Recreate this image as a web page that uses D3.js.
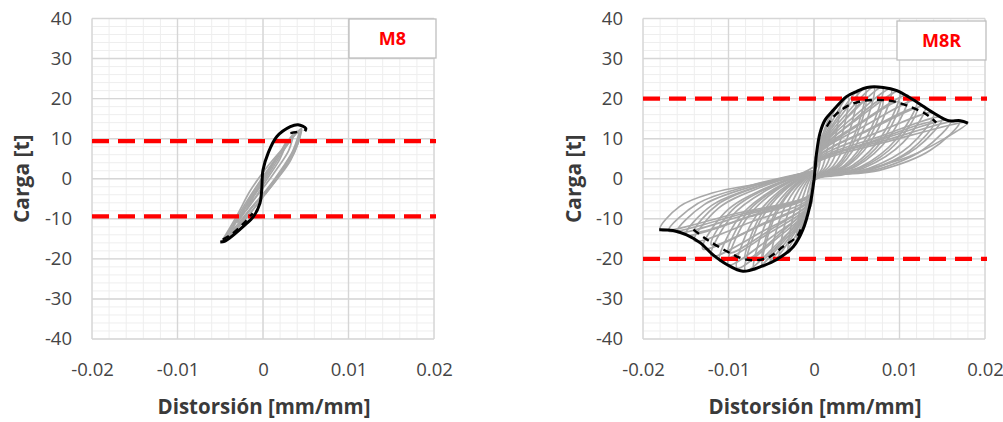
<!DOCTYPE html>
<html><head><meta charset="utf-8">
<script src="https://cdn.jsdelivr.net/npm/d3@7"></script>
<style>body{margin:0;background:#fff;overflow:hidden}</style>
</head><body>
<svg id="c" width="1003" height="422"></svg>
<script>
// ---------- data ----------
const xTicks = [-0.02, -0.01, 0, 0.01, 0.02];
const xTickLabels = ["-0.02", "-0.01", "0", "0.01", "0.02"];
const yTicks = [-40, -30, -20, -10, 0, 10, 20, 30, 40];
const yTickLabels = ["-40", "-30", "-20", "-10", "0", "10", "20", "30", "40"];
const xTitle = "Distorsión [mm/mm]";
const yTitle = "Carga [t]";
const panelNames = ["M8", "M8R"];

// M8 (left)
const m8Limits = [9.4, -9.4];
const m8Envelope = [[-0.0050,-15.8],[-0.0045,-15.6],[-0.0039,-14.8],[-0.0023,-11.9],[-0.0011,-9.4],[-0.00035,-6.1],[-0.00015,-2.7],[0,2.2],[0.0006,6.4],[0.0016,10.5],[0.0032,13.0],[0.0041,13.5],[0.0050,12.6],[0.0049,11.9]];
const m8Dashed = [[-0.0047,-15.2],[-0.0035,-13.6],[-0.0022,-11.0],[-0.0012,-8.6]];
const m8DashedTop = [[0.0032,11.4],[0.0038,11.6],[0.0044,11.9]];
const m8Cycles = [
  [[-0.0048,-15.5],[-0.0030,-9.0],[-0.0015,-3.0],[0.0005,3.0],[0.0025,8.0],[0.0045,12.5],[0.0042,9.5],[0.0032,4.5],[0.0015,-0.5],[0,-4.5],[-0.0020,-10.0],[-0.0035,-13.5],[-0.0048,-15.5]],
  [[-0.0040,-14.0],[-0.0025,-8.5],[-0.0010,-3.0],[0.0010,3.5],[0.0030,9.0],[0.0042,12.0],[0.0035,7.0],[0.0022,2.5],[0.0005,-2.5],[-0.0015,-7.5],[-0.0030,-11.5],[-0.0040,-14.0]],
  [[-0.0030,-11.0],[-0.0020,-7.0],[-0.0005,-2.0],[0.0010,3.0],[0.0025,8.0],[0.0035,11.0],[0.0030,7.0],[0.0018,3.0],[0.0003,-1.5],[-0.0015,-6.5],[-0.0030,-11.0]],
  [[-0.0020,-8.0],[-0.0010,-4.0],[0.0005,1.5],[0.0020,6.5],[0.0028,9.5],[0.0020,5.0],[0.0005,0],[-0.0010,-5.0],[-0.0020,-8.0]],
  [[-0.0045,-15.0],[-0.0028,-9.5],[-0.0008,-3.5],[0.0012,3.0],[0.0032,9.5],[0.0044,12.2],[0.0038,8.0],[0.0025,3.0],[0.0008,-2.0],[-0.0012,-7.0],[-0.0032,-12.5],[-0.0045,-15.0]],
  [[-0.0046,-15.2],[-0.0035,-11.5],[-0.0020,-6.0],[0,0.5],[0.0020,6.5],[0.0040,11.5],[0.0043,10.5],[0.0035,6.0],[0.0020,1.0],[0.0002,-4.0],[-0.0025,-11.0],[-0.0046,-15.2]]
];

// M8R (right)
const m8rLimits = [20, -20];
const m8rEnvelope = [[-0.0181,-12.7],[-0.0165,-12.9],[-0.0149,-14.0],[-0.0133,-16.0],[-0.0118,-19.0],[-0.0102,-21.4],[-0.0083,-23.1],[-0.0063,-22.0],[-0.0044,-20.2],[-0.0024,-16.9],[-0.0013,-12.7],[-0.0005,-6.9],[0,-0.3],[0.0003,6.4],[0.0007,11.4],[0.0013,14.7],[0.0023,17.2],[0.0038,20.5],[0.0050,21.8],[0.0062,22.8],[0.0081,22.8],[0.0097,22.0],[0.0116,19.7],[0.0140,16.4],[0.0157,14.5],[0.0171,14.5],[0.0180,13.9]];
const m8rDashedNeg = [[-0.0141,-12.7],[-0.0125,-15.2],[-0.0102,-18.1],[-0.0079,-20.2],[-0.0055,-19.8],[-0.0036,-16.9],[-0.0020,-14.4],[-0.0014,-11.9]];
const m8rDashedPos = [[0.0015,13.0],[0.0023,15.5],[0.0038,18.0],[0.0054,19.3],[0.0073,19.7],[0.0093,19.3],[0.0112,18.0],[0.0132,16.0],[0.0143,14.0]];
const m8rCycles = [
  [[0,2],[0.0004,3.3],[0.0005,7.5],[0.001,11],[0.0008,5.5],[0.00045,1.7],[0,-0.3],[-0.0004,-2.7],[-0.0005,-6.1],[-0.001,-9],[-0.0008,-4.3],[-0.00045,-1.3],[0,2]],
  [[0,2],[0.0004,4.8],[0.001,10.9],[0.002,16],[0.0016,8],[0.0009,2.4],[0,-0.3],[-0.0004,-4.5],[-0.001,-10.2],[-0.002,-15],[-0.0016,-7.2],[-0.0009,-2.1],[0,2]],
  [[0,2],[0.0004,5.7],[0.0015,12.9],[0.003,19],[0.0024,9.5],[0.00135,2.9],[0,-0.3],[-0.0004,-5.6],[-0.0015,-12.6],[-0.003,-18.5],[-0.0024,-8.9],[-0.00135,-2.6],[0,2]],
  [[0,2],[0.0004,6.2],[0.002,13.9],[0.004,20.5],[0.0032,10.3],[0.0018,3.1],[0,-0.3],[-0.0004,-6.1],[-0.002,-13.7],[-0.004,-20.2],[-0.0032,-9.7],[-0.0018,-2.8],[0,2]],
  [[0,2],[0.0004,6.5],[0.0025,14.6],[0.005,21.5],[0.004,10.8],[0.00225,3.2],[0,-0.3],[-0.0004,-6.3],[-0.0025,-14.3],[-0.005,-21],[-0.004,-10.1],[-0.00225,-2.9],[0,2]],
  [[0,2],[0.0004,6.8],[0.003,15.3],[0.006,22.5],[0.0048,11.3],[0.0027,3.4],[0,-0.3],[-0.0004,-6.6],[-0.003,-15],[-0.006,-22],[-0.0048,-10.6],[-0.0027,-3.1],[0,2]],
  [[0,2],[0.0004,6.8],[0.0035,15.5],[0.007,22.8],[0.0056,11.4],[0.00315,3.4],[0,-0.3],[-0.0004,-6.8],[-0.0035,-15.5],[-0.007,-22.8],[-0.0056,-10.9],[-0.00315,-3.2],[0,2]],
  [[0,2],[0.0004,6.8],[0.004,15.5],[0.008,22.8],[0.0064,11.4],[0.0036,3.4],[0,-0.3],[-0.0004,-6.9],[-0.004,-15.6],[-0.008,-23],[-0.0064,-11],[-0.0036,-3.2],[0,2]],
  [[0,2],[0.0004,6.7],[0.0045,15.2],[0.009,22.4],[0.0072,11.2],[0.00405,3.4],[0,-0.3],[-0.0004,-6.7],[-0.0045,-15.2],[-0.009,-22.3],[-0.0072,-10.7],[-0.00405,-3.1],[0,2]],
  [[0,2],[0.0004,6.5],[0.005,14.8],[0.010,21.8],[0.008,10.9],[0.0045,3.3],[0,-0.3],[-0.0004,-6.5],[-0.005,-14.6],[-0.010,-21.5],[-0.008,-10.3],[-0.0045,-3],[0,2]],
  [[0,2],[0.0004,6.2],[0.0055,14.1],[0.011,20.8],[0.0088,10.4],[0.00495,3.1],[0,-0.3],[-0.0004,-6.2],[-0.0055,-13.9],[-0.011,-20.5],[-0.0088,-9.8],[-0.00495,-2.9],[0,2]],
  [[0,2],[0.0004,5.9],[0.006,13.3],[0.012,19.5],[0.0096,9.8],[0.0054,2.9],[0,-0.3],[-0.0004,-5.8],[-0.006,-13.1],[-0.012,-19.3],[-0.0096,-9.3],[-0.0054,-2.7],[0,2]],
  [[0,2],[0.0004,5.4],[0.0065,12.2],[0.013,18],[0.0104,9],[0.00585,2.7],[0,-0.3],[-0.0004,-5.3],[-0.0065,-11.9],[-0.013,-17.5],[-0.0104,-8.4],[-0.00585,-2.5],[0,2]],
  [[0,2],[0.0004,4.9],[0.007,11.2],[0.014,16.4],[0.0112,8.2],[0.0063,2.5],[0,-0.3],[-0.0004,-4.7],[-0.007,-10.5],[-0.014,-15.5],[-0.0112,-7.4],[-0.0063,-2.2],[0,2]],
  [[0,2],[0.0004,4.6],[0.0075,10.4],[0.015,15.3],[0.012,7.7],[0.00675,2.3],[0,-0.3],[-0.0004,-4.2],[-0.0075,-9.5],[-0.015,-14],[-0.012,-6.7],[-0.00675,-2],[0,2]],
  [[0,2],[0.0004,4.4],[0.008,9.9],[0.016,14.5],[0.0128,7.3],[0.0072,2.2],[0,-0.3],[-0.0004,-4],[-0.008,-9],[-0.016,-13.3],[-0.0128,-6.4],[-0.0072,-1.9],[0,2]],
  [[0,2],[0.0004,4.3],[0.0085,9.7],[0.017,14.2],[0.0136,7.1],[0.00765,2.1],[0,-0.3],[-0.0004,-3.9],[-0.0085,-8.8],[-0.017,-13],[-0.0136,-6.2],[-0.00765,-1.8],[0,2]],
  [[0,3],[0.0004,4.2],[0.009,9.5],[0.018,14],[0.015,9.7],[0.0112,5.6],[0.0073,3],[0.0034,1],[0,-0.3],[-0.0004,-3.8],[-0.009,-8.6],[-0.018,-12.7],[-0.0157,-6.9],[-0.0118,-3.5],[-0.006,-1],[-0.0013,1.5],[0,3]],
  [[0,2],[0.0004,5.9],[0.003,13.3],[0.006,19.5],[0.0048,9.8],[0.0027,2.9],[0,-0.3],[-0.0004,-6],[-0.003,-13.6],[-0.006,-20],[-0.0048,-9.6],[-0.0027,-2.8],[0,2]],
  [[0,2],[0.0004,5.9],[0.004,13.4],[0.008,19.7],[0.0064,9.9],[0.0036,3],[0,-0.3],[-0.0004,-6.1],[-0.004,-13.7],[-0.008,-20.2],[-0.0064,-9.7],[-0.0036,-2.8],[0,2]],
  [[0,2],[0.0004,5.8],[0.005,13.1],[0.010,19.2],[0.008,9.6],[0.0045,2.9],[0,-0.3],[-0.0004,-5.6],[-0.005,-12.6],[-0.010,-18.5],[-0.008,-8.9],[-0.0045,-2.6],[0,2]],
  [[0,2],[0.0004,5.3],[0.006,11.9],[0.012,17.5],[0.0096,8.8],[0.0054,2.6],[0,-0.3],[-0.0004,-5],[-0.006,-11.2],[-0.012,-16.5],[-0.0096,-7.9],[-0.0054,-2.3],[0,2]],
  [[0,2],[0.0004,4.2],[0.007,9.5],[0.014,14],[0.0112,7],[0.0063,2.1],[0,-0.3],[-0.0004,-4],[-0.007,-9],[-0.014,-13.2],[-0.0112,-6.3],[-0.0063,-1.8],[0,2]]
];

// ---------- drawing ----------
const svg = d3.select("#c");
const FONT = "'Open Sans', 'Liberation Sans', sans-serif";

const panels = [
  {name: panelNames[0], x0: 92, x1: 434, yLabelX: 22, box: [349, 19, 87, 39],
   limits: m8Limits, cycles: m8Cycles, solid: [m8Envelope], dashed: [m8Dashed, m8DashedTop]},
  {name: panelNames[1], x0: 643, x1: 985, yLabelX: 574, box: [897, 21, 89, 39],
   limits: m8rLimits, cycles: m8rCycles, solid: [m8rEnvelope], dashed: [m8rDashedNeg, m8rDashedPos]}
];

panels.forEach(p => {
  const x = d3.scaleLinear().domain([xTicks[0], xTicks[xTicks.length-1]]).range([p.x0, p.x1]);
  const y = d3.scaleLinear().domain([yTicks[0], yTicks[yTicks.length-1]]).range([339, 18.5]);
  const g = svg.append("g");
  const [X0, X1] = x.range(); const [Y0, Y1] = y.range();

  // minor grid
  const xMinor = d3.range(0, 21).map(i => xTicks[0] + i * 0.002);
  const yMinor = d3.range(0, 41).map(i => yTicks[0] + i * 2);
  g.selectAll(".xm").data(xMinor).join("line")
    .attr("x1", d => x(d)).attr("x2", d => x(d)).attr("y1", Y0).attr("y2", Y1)
    .attr("stroke", "#eeeeee").attr("stroke-width", 1);
  g.selectAll(".ym").data(yMinor).join("line")
    .attr("y1", d => y(d)).attr("y2", d => y(d)).attr("x1", X0).attr("x2", X1)
    .attr("stroke", "#eeeeee").attr("stroke-width", 1);
  // major grid
  g.selectAll(".xM").data(xTicks).join("line")
    .attr("x1", d => x(d)).attr("x2", d => x(d)).attr("y1", Y0).attr("y2", Y1)
    .attr("stroke", "#d6d6d6").attr("stroke-width", 1.4);
  g.selectAll(".yM").data(yTicks).join("line")
    .attr("y1", d => y(d)).attr("y2", d => y(d)).attr("x1", X0).attr("x2", X1)
    .attr("stroke", "#d6d6d6").attr("stroke-width", 1.4);

  // axes labels via d3 axes
  const ax = g.append("g").attr("transform", `translate(0,${Y0})`)
    .call(d3.axisBottom(x).tickValues(xTicks).tickSize(0).tickPadding(24)
      .tickFormat((d, i) => xTickLabels[i]));
  const ay = g.append("g").attr("transform", `translate(${X0},0)`)
    .call(d3.axisLeft(y).tickValues(yTicks).tickSize(0).tickPadding(20)
      .tickFormat((d, i) => yTickLabels[i]));
  [ax, ay].forEach(a => {
    a.select(".domain").remove();
    a.selectAll("text").attr("font-family", FONT).attr("font-size", 18.5).attr("fill", "#454545");
  });

  // titles
  g.append("text").attr("x", (X0 + X1) / 2 + 1).attr("y", 414).attr("text-anchor", "middle")
    .attr("font-family", FONT).attr("font-weight", "bold").attr("font-size", 20.5).attr("fill", "#3a3a3a")
    .text(xTitle);
  g.append("text").attr("transform", `translate(${p.yLabelX + 7},${(Y0 + Y1) / 2}) rotate(-90)`)
    .attr("text-anchor", "middle").attr("font-family", FONT).attr("font-weight", "bold")
    .attr("font-size", 21).attr("fill", "#3a3a3a").text(yTitle);

  const line = d3.line().x(d => x(d[0])).y(d => y(d[1])).curve(d3.curveCatmullRom.alpha(0.5));

  // gray cycles
  g.selectAll(".cyc").data(p.cycles).join("path")
    .attr("d", line).attr("fill", "none").attr("stroke", "#a8a8a8").attr("stroke-width", 1.7);

  // red limit lines
  g.selectAll(".lim").data(p.limits).join("line")
    .attr("x1", X0).attr("x2", X1 + 2).attr("y1", d => y(d)).attr("y2", d => y(d))
    .attr("stroke", "#ff0000").attr("stroke-width", 4.2).attr("stroke-dasharray", "17 9");

  // black envelopes
  g.selectAll(".env").data(p.solid).join("path")
    .attr("d", line).attr("fill", "none").attr("stroke", "#000").attr("stroke-width", 3)
    .attr("stroke-linejoin", "round");
  g.selectAll(".envd").data(p.dashed).join("path")
    .attr("d", line).attr("fill", "none").attr("stroke", "#000").attr("stroke-width", 2.4)
    .attr("stroke-dasharray", "7 5");

  // legend box
  const [bx, by, bw, bh] = p.box;
  g.append("rect").attr("x", bx).attr("y", by).attr("width", bw).attr("height", bh)
    .attr("fill", "#fff").attr("stroke", "#bfbfbf").attr("stroke-width", 1.3);
  g.append("text").attr("x", bx + bw / 2).attr("y", by + bh / 2 + 6.5).attr("text-anchor", "middle")
    .attr("font-family", FONT).attr("font-weight", "bold").attr("font-size", 18).attr("fill", "#ff0000")
    .text(p.name);
});
</script>
</body></html>
